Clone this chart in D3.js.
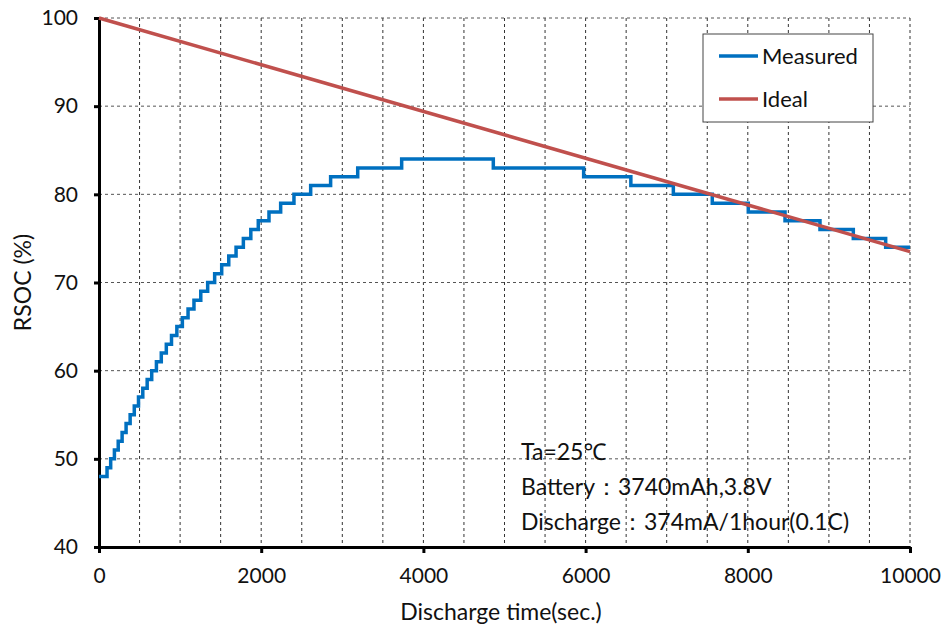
<!DOCTYPE html>
<html>
<head>
<meta charset="utf-8">
<script src="https://cdn.jsdelivr.net/npm/d3@7"></script>
<style>
  body { margin: 0; background: #fff; }
  text { font-family: Lato, "Noto Sans", sans-serif; }
</style>
</head>
<body>
<div id="chart"></div>
<script>
// measured RSOC: time (s) where each new level starts, and the level
let measuredTime = [0, 99, 144, 190, 237, 285, 334, 384, 435, 487, 540, 594, 650, 708, 768, 830, 894, 960, 1028, 1098,
    1171, 1255, 1340, 1426, 1513, 1600, 1690, 1780, 1872, 1964, 2096, 2240, 2404, 2610, 2856, 3190, 3732,
    4862, 5976, 6558, 7082, 7562, 8006, 8459, 8890, 9301, 9700, 10000]
let measuredRsoc = [48, 49, 50, 51, 52, 53, 54, 55, 56, 57, 58, 59, 60, 61, 62, 63, 64, 65, 66, 67,
    68, 69, 70, 71, 72, 73, 74, 75, 76, 77, 78, 79, 80, 81, 82, 83, 84,
    83, 82, 81, 80, 79, 78, 77, 76, 75, 74, 74]

let idealTime = [0, 10000]
let idealRsoc = [100, 73.5]

let xTicks = [0, 2000, 4000, 6000, 8000, 10000]
let xGrid = d3.range(500, 10001, 500)
let yTicks = [40, 50, 60, 70, 80, 90, 100]

let legendNames = ["Measured", "Ideal"]
let legendColors = ["#0070C0", "#C0504D"]
let notes = ["Ta=25℃", "Battery：3740mAh,3.8V", "Discharge：374mA/1hour(0.1C)"]

let width = 943, height = 630
let margin = {top: 18, right: 33, bottom: 83, left: 99}

let svg = d3.select("#chart").append("svg")
    .attr("width", width)
    .attr("height", height)

let x = d3.scaleLinear().domain([0, 10000]).range([margin.left, width - margin.right])
let y = d3.scaleLinear().domain([40, 100]).range([height - margin.bottom, margin.top])

// grid
svg.append("g")
    .selectAll("line")
    .data(xGrid)
    .join("line")
    .attr("x1", d => x(d)).attr("x2", d => x(d))
    .attr("y1", y(100)).attr("y2", y(40))
    .attr("stroke", "#333")
    .attr("stroke-dasharray", "3,3")

svg.append("g")
    .selectAll("line")
    .data(yTicks.filter(d => d > 40))
    .join("line")
    .attr("x1", x(0)).attr("x2", x(10000))
    .attr("y1", d => y(d)).attr("y2", d => y(d))
    .attr("stroke", "#555")
    .attr("stroke-dasharray", "3,3")

// notes
svg.append("g")
    .selectAll("text")
    .data(notes)
    .join("text")
    .attr("x", 521)
    .attr("y", (d, i) => 460 + i * 35)
    .attr("font-size", 23)
    .attr("fill", "#111")
    .text(d => d)

// axes
let xAxis = g => g
    .attr("transform", `translate(0,${y(40)})`)
    .call(d3.axisBottom(x).tickValues(xTicks).tickFormat(d3.format("d")).tickSize(6).tickPadding(15).tickSizeOuter(0))
    .call(g => g.select(".domain").attr("stroke-width", 3))
    .call(g => g.selectAll(".tick line").attr("stroke-width", 3))
    .call(g => g.selectAll(".tick text").attr("font-size", 21).attr("fill", "#111"))

let yAxis = g => g
    .attr("transform", `translate(${x(0)},0)`)
    .call(d3.axisLeft(y).tickValues(yTicks).tickSize(5).tickPadding(16).tickSizeOuter(0))
    .call(g => g.select(".domain").attr("stroke-width", 3))
    .call(g => g.selectAll(".tick line").attr("stroke-width", 3))
    .call(g => g.selectAll(".tick text").attr("font-size", 21).attr("fill", "#111"))

svg.append("g").call(xAxis)
svg.append("g").call(yAxis)

svg.append("text")
    .attr("x", 501).attr("y", 620)
    .attr("text-anchor", "middle")
    .attr("font-size", 23)
    .attr("fill", "#111")
    .text("Discharge time(sec.)")

svg.append("text")
    .attr("transform", `translate(31,${y(70)}) rotate(-90)`)
    .attr("text-anchor", "middle")
    .attr("font-size", 23)
    .attr("fill", "#111")
    .text("RSOC (%)")

// lines
let measured = measuredTime.map((t, i) => [t, measuredRsoc[i]])
let ideal = idealTime.map((t, i) => [t, idealRsoc[i]])

svg.append("path")
    .datum(measured)
    .attr("fill", "none")
    .attr("stroke", legendColors[0])
    .attr("stroke-width", 3.5)
    .attr("d", d3.line().x(d => x(d[0])).y(d => y(d[1])).curve(d3.curveStepAfter))

svg.append("path")
    .datum(ideal)
    .attr("fill", "none")
    .attr("stroke", legendColors[1])
    .attr("stroke-width", 3.5)
    .attr("d", d3.line().x(d => x(d[0])).y(d => y(d[1])))

// legend
let legend = svg.append("g").attr("transform", "translate(703,34)")
legend.append("rect")
    .attr("width", 170).attr("height", 88)
    .attr("fill", "#fff")
    .attr("stroke", "#444")

let item = legend.selectAll("g")
    .data(legendNames)
    .join("g")
    .attr("transform", (d, i) => `translate(0,${22 + i * 43})`)

item.append("line")
    .attr("x1", 16).attr("x2", 55)
    .attr("stroke", (d, i) => legendColors[i])
    .attr("stroke-width", 3.5)

item.append("text")
    .attr("x", 59).attr("dy", "0.35em")
    .attr("font-size", 22)
    .attr("fill", "#111")
    .text(d => d)
</script>
</body>
</html>
